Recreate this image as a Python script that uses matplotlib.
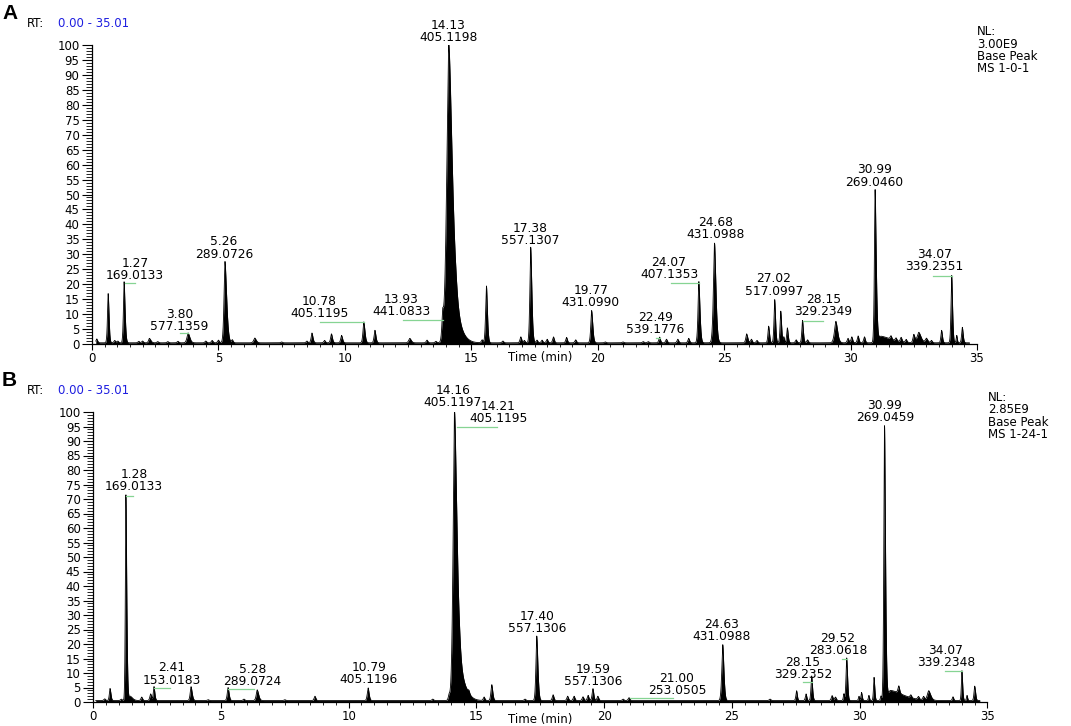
import numpy as np
import matplotlib
matplotlib.use("Agg")
import matplotlib.pyplot as plt
from matplotlib.ticker import MultipleLocator

plt.rcParams['font.family'] = ['DejaVu Sans']

# ---------------- data ----------------
# Panel A : retention time (min), relative abundance (%), peak half-widths left/right (min)
rt_A = [0.19, 0.64, 0.90, 1.02, 1.27, 1.85, 2.00, 2.27, 2.60, 3.00, 3.40, 3.80, 4.50, 4.75,
        5.00, 5.26, 5.55, 6.44, 7.50, 8.50, 8.70, 9.20, 9.47, 9.87, 10.75, 11.19, 12.57,
        13.25, 13.60, 13.87, 14.11, 14.40, 15.43, 15.60, 16.25, 16.96, 17.10, 17.35, 17.60,
        17.80, 18.00, 18.25, 18.77, 19.13, 19.76, 20.30, 21.00, 21.80, 22.00, 22.45, 22.72,
        23.17, 23.60, 24.00, 24.62, 25.89, 26.08, 26.30, 26.76, 27.00, 27.24, 27.36, 27.50,
        27.85, 28.10, 28.30, 29.42, 29.90, 30.05, 30.30, 30.55, 30.97, 31.20, 31.60, 31.80,
        32.00, 32.20, 32.50, 32.70, 33.00, 33.20, 33.60, 34.00, 34.20, 34.42]
ht_A = [1.3, 16.6, 0.8, 0.6, 20.5, 0.5, 0.6, 1.5, 0.4, 0.4, 0.5, 3.3, 0.6, 0.8,
        0.9, 27.2, 1.0, 1.6, 0.3, 0.6, 3.3, 0.8, 3.0, 2.5, 7.0, 4.2, 1.5,
        0.9, 0.5, 7.6, 99.5, 7.0, 1.0, 19.0, 0.6, 2.0, 0.8, 32.0, 0.9,
        0.9, 1.2, 2.0, 1.8, 1.0, 10.8, 0.3, 0.3, 0.4, 0.4, 1.9, 1.2,
        1.2, 1.5, 20.5, 33.4, 3.0, 1.2, 0.8, 5.6, 14.5, 10.6, 2.0, 5.0,
        1.0, 7.5, 1.0, 7.2, 1.5, 2.0, 2.3, 2.0, 51.2, 2.2, 1.2, 1.0,
        1.5, 1.0, 2.7, 3.5, 1.5, 0.8, 4.2, 22.5, 2.5, 5.2]
wl_A = [0.03, 0.025, 0.03, 0.03, 0.025, 0.03, 0.03, 0.03, 0.03, 0.03, 0.03, 0.04, 0.03, 0.03,
        0.03, 0.035, 0.03, 0.04, 0.03, 0.03, 0.03, 0.03, 0.03, 0.03, 0.03, 0.03, 0.04,
        0.03, 0.03, 0.03, 0.075, 0.10, 0.03, 0.03, 0.03, 0.03, 0.03, 0.03, 0.03,
        0.03, 0.03, 0.03, 0.03, 0.03, 0.03, 0.03, 0.03, 0.03, 0.03, 0.03, 0.03,
        0.03, 0.03, 0.03, 0.04, 0.03, 0.03, 0.03, 0.025, 0.025, 0.025, 0.02, 0.025,
        0.03, 0.025, 0.03, 0.05, 0.03, 0.03, 0.03, 0.03, 0.025, 0.10, 0.03, 0.03,
        0.03, 0.03, 0.03, 0.06, 0.04, 0.03, 0.025, 0.025, 0.02, 0.025]
wr_A = [0.03, 0.03, 0.03, 0.03, 0.035, 0.03, 0.03, 0.05, 0.03, 0.03, 0.03, 0.06, 0.03, 0.03,
        0.03, 0.06, 0.03, 0.05, 0.03, 0.03, 0.035, 0.03, 0.035, 0.035, 0.04, 0.035, 0.05,
        0.03, 0.03, 0.03, 0.13, 0.22, 0.03, 0.035, 0.03, 0.03, 0.03, 0.04, 0.03,
        0.03, 0.03, 0.03, 0.03, 0.03, 0.04, 0.03, 0.03, 0.03, 0.03, 0.03, 0.03,
        0.03, 0.03, 0.04, 0.05, 0.04, 0.03, 0.03, 0.03, 0.03, 0.03, 0.02, 0.03,
        0.03, 0.03, 0.03, 0.06, 0.03, 0.03, 0.03, 0.03, 0.04, 0.35, 0.03, 0.03,
        0.03, 0.03, 0.04, 0.08, 0.05, 0.03, 0.03, 0.03, 0.02, 0.03]

# Panel B
rt_B = [0.45, 0.66, 1.10, 1.28, 1.45, 1.90, 2.25, 2.38, 3.83, 4.50, 5.28, 5.90, 6.42, 7.50,
        8.68, 10.76, 13.29, 13.93, 14.14, 14.35, 14.70, 15.30, 15.60, 16.90, 17.36, 18.00,
        18.57, 18.82, 19.17, 19.37, 19.56, 19.75, 20.74, 20.97, 24.64, 26.49, 27.53, 27.90,
        28.12, 28.92, 29.05, 29.38, 29.49, 29.97, 30.07, 30.36, 30.56, 30.83, 30.97, 31.20,
        31.53, 32.00, 32.30, 32.50, 32.70, 33.65, 34.00, 34.20, 34.50]
ht_B = [0.6, 4.2, 0.5, 71.0, 1.5, 1.2, 2.3, 4.8, 4.8, 0.3, 4.5, 0.5, 3.7, 0.3,
        1.5, 4.4, 0.5, 1.8, 99.0, 9.0, 1.0, 1.2, 5.5, 0.5, 22.3, 2.0,
        1.5, 1.5, 1.3, 1.8, 4.1, 1.5, 0.5, 1.0, 19.3, 0.5, 3.4, 2.3,
        8.5, 1.7, 1.2, 2.3, 14.8, 1.5, 2.8, 1.8, 8.0, 1.5, 94.5, 3.5,
        2.5, 1.0, 1.0, 1.2, 3.3, 1.3, 10.3, 1.8, 5.0]
wl_B = [0.03, 0.025, 0.03, 0.02, 0.05, 0.03, 0.03, 0.025, 0.03, 0.03, 0.03, 0.03, 0.035, 0.03,
        0.03, 0.03, 0.03, 0.03, 0.05, 0.08, 0.03, 0.03, 0.03, 0.03, 0.03, 0.03,
        0.03, 0.03, 0.03, 0.03, 0.03, 0.03, 0.03, 0.03, 0.035, 0.03, 0.025, 0.025,
        0.025, 0.03, 0.03, 0.02, 0.025, 0.02, 0.02, 0.02, 0.02, 0.02, 0.025, 0.10,
        0.03, 0.03, 0.03, 0.03, 0.05, 0.025, 0.02, 0.02, 0.025]
wr_B = [0.03, 0.03, 0.03, 0.03, 0.08, 0.03, 0.03, 0.03, 0.04, 0.03, 0.035, 0.03, 0.05, 0.03,
        0.03, 0.035, 0.03, 0.03, 0.09, 0.20, 0.03, 0.03, 0.035, 0.03, 0.04, 0.03,
        0.03, 0.03, 0.03, 0.03, 0.03, 0.03, 0.03, 0.03, 0.04, 0.03, 0.025, 0.025,
        0.03, 0.03, 0.03, 0.02, 0.03, 0.02, 0.025, 0.02, 0.025, 0.02, 0.035, 0.45,
        0.03, 0.03, 0.03, 0.03, 0.07, 0.025, 0.025, 0.02, 0.03]

baseline_A = 0.4
baseline_B = 0.5

# peak annotations: retention time text, m/z text
labels_rt_A = ["1.27", "3.80", "5.26", "10.78", "13.93", "14.13", "17.38", "19.77",
               "22.49", "24.07", "24.68", "27.02", "28.15", "30.99", "34.07"]
labels_mz_A = ["169.0133", "577.1359", "289.0726", "405.1195", "441.0833", "405.1198",
               "557.1307", "431.0990", "539.1776", "407.1353", "431.0988", "517.0997",
               "329.2349", "269.0460", "339.2351"]
labels_rt_B = ["1.28", "2.41", "5.28", "10.79", "14.16", "14.21", "17.40", "19.59",
               "21.00", "24.63", "28.15", "29.52", "30.99", "34.07"]
labels_mz_B = ["169.0133", "153.0183", "289.0724", "405.1196", "405.1197", "405.1195",
               "557.1306", "557.1306", "253.0505", "431.0988", "329.2352", "283.0618",
               "269.0459", "339.2348"]

header_A = ["NL:", "3.00E9", "Base Peak", "MS 1-0-1"]
header_B = ["NL:", "2.85E9", "Base Peak", "MS 1-24-1"]
rt_range = "0.00 - 35.01"

# ---------------- layout (label placement, not data) ----------------
# (text x, text bottom y, leader x0, leader x1, leader y) or None for no leader line
layout_A = [(1.70, 20.7, 1.30, 1.70, 20.5), (3.45, 3.6, 3.47, 3.80, 3.8), (5.22, 27.9, None, None, None),
            (9.00, 7.9, 9.00, 10.75, 7.4), (12.24, 8.6, 12.30, 13.87, 8.0), (14.10, 100.3, None, None, None),
            (17.34, 32.5, None, None, None), (19.72, 11.7, None, None, None), (22.29, 2.7, 22.30, 22.45, 2.1),
            (22.82, 21.0, 22.90, 24.00, 20.5), (24.66, 34.5, None, None, None), (26.96, 15.5, None, None, None),
            (28.93, 8.6, 28.10, 28.90, 7.8), (30.95, 52.0, None, None, None), (33.32, 23.7, 33.25, 34.00, 22.7)]
layout_B = [(1.60, 72.0, 1.28, 1.57, 71.2), (3.08, 5.3, 2.38, 3.00, 5.0), (6.23, 4.8, 5.28, 6.30, 4.5),
            (10.79, 5.5, None, None, None), (14.08, 101.0, None, None, None), (15.85, 95.5, 14.23, 15.80, 94.8),
            (17.37, 23.0, None, None, None), (19.56, 4.9, None, None, None), (22.85, 1.7, 21.00, 22.70, 1.4),
            (24.60, 20.3, None, None, None), (27.78, 7.2, 27.78, 28.12, 7.0), (29.15, 15.5, 29.30, 29.49, 15.0),
            (30.99, 95.9, None, None, None), (33.37, 11.4, 33.34, 34.00, 10.8)]

W, H = 1071, 726
fig = plt.figure(figsize=(W / 100, H / 100), dpi=100)

GREEN = '#86d493'
BLUE = '#1f1fe0'
LBL_FS = 8.8


def px(x, y):
    return x / W, 1 - y / H


def trace(t, rts, hts, wls, wrs, base):
    y = np.full_like(t, base)
    for rt, h, wl, wr in zip(rts, hts, wls, wrs):
        d = t - rt
        w = np.where(d < 0, wl, wr)
        y += h * np.exp(-0.5 * (np.abs(d) / w) ** 1.6)
    return y


def panel(rect, rts, hts, wls, wrs, base, t0, t1, lrt, lmz, layout):
    ax = fig.add_axes(rect)
    t = np.linspace(t0, t1, 8000)
    y = trace(t, rts, hts, wls, wrs, base)
    ax.fill_between(t, 0, y, color='black', lw=0)
    ax.plot(t, y, color='black', lw=0.6)
    ax.set_xlim(0, 35)
    ax.set_ylim(0, 100)
    for s in ['top', 'right']:
        ax.spines[s].set_visible(False)
    for s in ['left', 'bottom']:
        ax.spines[s].set_linewidth(0.9)
    ax.xaxis.set_major_locator(MultipleLocator(5))
    ax.xaxis.set_minor_locator(MultipleLocator(0.5))
    ax.yaxis.set_major_locator(MultipleLocator(5))
    ax.yaxis.set_minor_locator(MultipleLocator(1))
    ax.tick_params(axis='y', which='major', length=7.5, width=0.8, pad=1.5, labelsize=8.5)
    ax.tick_params(axis='y', which='minor', length=4.5, width=0.6)
    ax.tick_params(axis='x', which='major', length=4, width=0.8, pad=2, labelsize=8.5)
    ax.tick_params(axis='x', which='minor', length=2, width=0.6)
    for a, b, (x, yb, lx0, lx1, ly) in zip(lrt, lmz, layout):
        ax.text(x, yb, a + "\n" + b, ha='center', va='bottom', fontsize=LBL_FS,
                linespacing=0.92, clip_on=False)
        if lx0 is not None:
            ax.plot([lx0, lx1], [ly, ly], color=GREEN, lw=0.9, clip_on=False)
    return ax


axA = panel([92 / W, 1 - 344 / H, (977 - 92) / W, (344 - 45) / H],
            rt_A, ht_A, wl_A, wr_A, baseline_A, 0.15, 34.7, labels_rt_A, labels_mz_A, layout_A)
axB = panel([93.2 / W, 1 - 702 / H, (987.5 - 93.2) / W, (702 - 412) / H],
            rt_B, ht_B, wl_B, wr_B, baseline_B, 0.1, 34.7, labels_rt_B, labels_mz_B, layout_B)

# panel letters
fig.text(*px(2, 19), "A", fontsize=15, fontweight='bold', family='Liberation Sans', va='baseline')
fig.text(*px(2, 386), "B", fontsize=15, fontweight='bold', family='Liberation Sans', va='baseline')

# RT range lines
for ytop in (27, 394):
    fig.text(*px(27, ytop), "RT:", fontsize=8.5, va='baseline')
    fig.text(*px(58, ytop), rt_range, fontsize=8.5, va='baseline', color=BLUE)

# NL header blocks
fig.text(*px(977, 25), "\n".join(header_A), fontsize=8.5, va='top', ha='left', linespacing=0.95)
fig.text(*px(988, 391), "\n".join(header_B), fontsize=8.5, va='top', ha='left', linespacing=0.95)

# axis titles
fig.text(*px(540, 358), "Time (min)", fontsize=8.5, ha='center', va='center')
fig.text(*px(540, 719), "Time (min)", fontsize=8.5, ha='center', va='center')

fig.savefig("out.png", dpi=100)
